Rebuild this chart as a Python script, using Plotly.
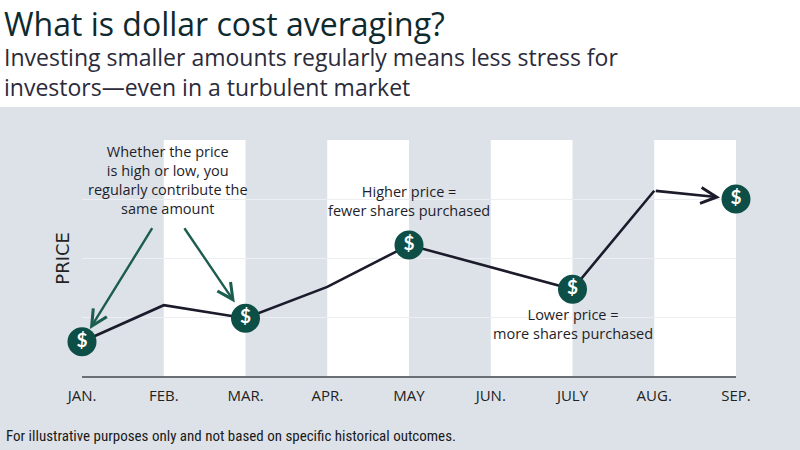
import plotly.graph_objects as go

months = ["JAN.", "FEB.", "MAR.", "APR.", "MAY", "JUN.", "JULY", "AUG.", "SEP."]
price = [0.58, 1.20, 0.98, 1.51, 2.22, 1.85, 1.47, 3.14, 3.00]
purchase_idx = [0, 2, 4, 6, 8]
band_starts = [1, 3, 5, 7]

title = "What is dollar cost averaging?"
subtitle = "Investing smaller amounts regularly means less stress for<br>investors\u2014even in a turbulent market"
footnote = "For illustrative purposes only and not based on specific historical outcomes."
note_same = "Whether the price<br>is high or low, you<br>regularly contribute the<br>same amount"
note_high = "Higher price =<br>fewer shares purchased"
note_low = "Lower price =<br>more shares purchased"

FONT = "'Open Sans', Lato, sans-serif"
COND = "'Roboto Condensed', 'Liberation Sans Narrow', 'DejaVu Sans Condensed', Roboto, sans-serif"
BG = "#dde2e8"
ICON = "#0d4f46"
GREEN = "#1d5d50"
LINE = "#1b1b2b"

x = list(range(len(months)))

fig = go.Figure()

# price line up to August; final segment drawn as arrow
fig.add_trace(go.Scatter(
    x=x[:-1], y=price[:-1], mode="lines",
    line=dict(color=LINE, width=2.6), hoverinfo="skip", showlegend=False))

fig.add_trace(go.Scatter(
    x=[x[i] for i in purchase_idx], y=[price[i] for i in purchase_idx],
    mode="markers+text", text=["$"] * len(purchase_idx),
    textposition="middle center",
    textfont=dict(color="white", size=19, family="Lato, 'DejaVu Sans', sans-serif", weight="bold"),
    marker=dict(size=29, color=ICON, line=dict(width=0)),
    hoverinfo="skip", showlegend=False, cliponaxis=False))

shapes = [dict(type="rect", xref="paper", yref="paper", x0=-0.2, x1=1.2, y0=-0.42, y1=1.14,
               fillcolor=BG, line=dict(width=0), layer="below")]
for s in band_starts:
    shapes.append(dict(type="rect", xref="x", yref="y", x0=s, x1=s + 1, y0=0, y1=4,
                       fillcolor="white", line=dict(width=0), layer="below"))

annotations = [
    dict(text=title, xref="paper", yref="paper", x=-0.123, y=1.492, xanchor="left", yanchor="middle",
         showarrow=False, font=dict(family=FONT, size=32, color="#0e2a2e")),
    dict(text=subtitle, xref="paper", yref="paper", x=-0.123, y=1.29, xanchor="left", yanchor="middle",
         showarrow=False, align="left", font=dict(family=FONT, size=23, color="#2b2b3b")),
    dict(text=footnote, xref="paper", yref="paper", x=-0.119, y=-0.254, xanchor="left", yanchor="middle",
         showarrow=False, font=dict(family=COND, size=15, color="#1a1a1a")),
    dict(text="PRICE", xref="paper", yref="paper", x=-0.031, y=0.5, xanchor="center", yanchor="middle",
         textangle=-90, showarrow=False, font=dict(family="'DejaVu Sans', sans-serif", size=18, color="#222")),
    dict(text=note_same, x=1.05, y=3.32, xref="x", yref="y", showarrow=False,
         font=dict(family=FONT, size=14.5, color="#1e1e2a")),
    dict(text=note_high, x=4, y=2.97, xref="x", yref="y", showarrow=False,
         font=dict(family=FONT, size=14.5, color="#1e1e2a")),
    dict(text=note_low, x=6, y=0.88, xref="x", yref="y", showarrow=False,
         font=dict(family=FONT, size=14.5, color="#1e1e2a")),
    # final line segment with arrowhead
    dict(text="", x=x[8], y=price[8], ax=x[7], ay=price[7], xref="x", yref="y", axref="x", ayref="y",
         showarrow=True, arrowhead=5, arrowsize=1.2, arrowwidth=2.6, arrowcolor=LINE, standoff=16),
    # green pointer arrows
    dict(text="", x=x[0], y=price[0], ax=0.87, ay=2.53, xref="x", yref="y", axref="x", ayref="y",
         showarrow=True, arrowhead=5, arrowsize=1.3, arrowwidth=2.4, arrowcolor=GREEN, standoff=15),
    dict(text="", x=x[2], y=price[2], ax=1.24, ay=2.53, xref="x", yref="y", axref="x", ayref="y",
         showarrow=True, arrowhead=5, arrowsize=1.3, arrowwidth=2.4, arrowcolor=GREEN, standoff=19),
]

fig.update_layout(
    width=800, height=450,
    margin=dict(l=82, r=64, t=140, b=74),
    paper_bgcolor="white", plot_bgcolor="rgba(0,0,0,0)",
    shapes=shapes, annotations=annotations, showlegend=False,
    xaxis=dict(range=[0, 8], tickmode="array", tickvals=x, ticktext=months,
               showgrid=False, zeroline=False, showline=True, linecolor="#6b6f75", linewidth=2,
               ticks="", ticklabelstandoff=5,
               tickfont=dict(family=FONT, size=15, color="#222")),
    yaxis=dict(range=[0, 4], tickvals=[1, 2, 3], showticklabels=False, showgrid=True,
               gridcolor="#eceef1", gridwidth=1, zeroline=False, showline=False),
)

fig.write_html("out.html", config={"displayModeBar": False},
               post_script="document.body.style.margin='0px';")
